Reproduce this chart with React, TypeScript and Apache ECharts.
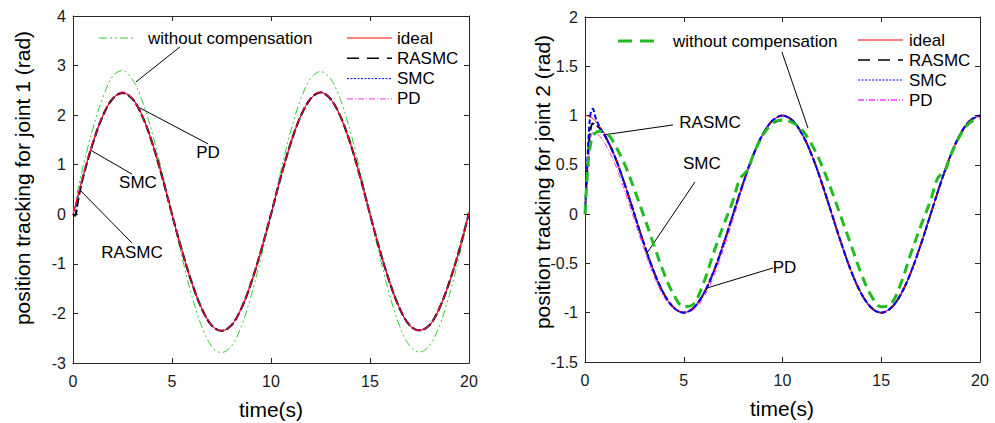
import React, { useEffect, useRef } from "react";
import * as echarts from "echarts";

// ---------- data ----------
const T1 = [0, 0.1, 0.25, 0.5, 1, 1.5, 2, 2.5, 3, 3.5, 4, 4.5, 5, 5.5, 6, 6.5, 7, 7.5, 8, 8.5, 9, 9.5, 10, 10.5, 11, 11.5, 12, 12.5, 13, 13.5, 14, 14.5, 15, 15.5, 16, 16.5, 17, 17.5, 18, 18.5, 19, 19.5, 20];
const ideal1 = [0, 0.15, 0.38, 0.76, 1.44, 1.98, 2.33, 2.45, 2.33, 1.98, 1.44, 0.76, 0, -0.73, -1.38, -1.9, -2.24, -2.35, -2.24, -1.9, -1.38, -0.73, 0, 0.76, 1.44, 1.98, 2.33, 2.46, 2.33, 1.98, 1.44, 0.76, 0, -0.73, -1.38, -1.9, -2.24, -2.34, -2.24, -1.9, -1.38, -0.73, 0.03];
const rasmc1 = [0, -0.03, 0.28, 0.74, 1.43, 1.98, 2.33, 2.45, 2.33, 1.98, 1.44, 0.76, 0, -0.73, -1.38, -1.9, -2.24, -2.35, -2.24, -1.9, -1.38, -0.73, 0, 0.76, 1.44, 1.98, 2.33, 2.46, 2.33, 1.98, 1.44, 0.76, 0, -0.73, -1.38, -1.9, -2.24, -2.34, -2.24, -1.9, -1.38, -0.73, 0.03];
const smc1 = [0, 0.08, 0.34, 0.75, 1.44, 1.98, 2.33, 2.45, 2.33, 1.98, 1.44, 0.76, 0, -0.73, -1.38, -1.9, -2.24, -2.35, -2.24, -1.9, -1.38, -0.73, 0, 0.76, 1.44, 1.98, 2.33, 2.46, 2.33, 1.98, 1.44, 0.76, 0, -0.73, -1.38, -1.9, -2.24, -2.34, -2.24, -1.9, -1.38, -0.73, 0.03];
const pd1 = [0, 0.12, 0.4, 0.78, 1.45, 1.99, 2.34, 2.47, 2.34, 1.99, 1.45, 0.77, 0, -0.73, -1.38, -1.9, -2.24, -2.35, -2.24, -1.9, -1.38, -0.73, 0, 0.76, 1.44, 1.98, 2.33, 2.47, 2.33, 1.98, 1.44, 0.76, 0, -0.73, -1.38, -1.9, -2.24, -2.34, -2.24, -1.9, -1.38, -0.73, 0.03];
const wo1 = [0, 0.2, 0.5, 0.95, 1.72, 2.35, 2.78, 2.9, 2.72, 2.28, 1.64, 0.85, 0, -0.86, -1.64, -2.26, -2.66, -2.79, -2.66, -2.26, -1.64, -0.86, 0, 0.88, 1.68, 2.32, 2.74, 2.88, 2.74, 2.32, 1.68, 0.88, 0, -0.86, -1.64, -2.26, -2.65, -2.78, -2.65, -2.26, -1.64, -0.86, 0.05];

const T2 = [0, 0.1, 0.2, 0.3, 0.4, 0.5, 0.75, 1, 1.5, 2, 2.5, 3, 3.5, 4, 4.5, 5, 5.5, 6, 6.5, 7, 7.5, 8, 8.5, 9, 9.5, 10, 10.5, 11, 11.5, 12, 12.5, 13, 13.5, 14, 14.5, 15, 15.5, 16, 16.5, 17, 17.5, 18, 18.5, 19, 19.5, 20];
const ideal2 = [1, 1.0, 0.99, 0.98, 0.97, 0.95, 0.89, 0.81, 0.59, 0.31, 0, -0.31, -0.59, -0.81, -0.95, -1, -0.95, -0.81, -0.59, -0.31, 0, 0.31, 0.59, 0.81, 0.95, 1, 0.95, 0.81, 0.59, 0.31, 0, -0.31, -0.59, -0.81, -0.95, -1, -0.95, -0.81, -0.59, -0.31, 0, 0.31, 0.59, 0.81, 0.95, 1];
const rasmc2 = [0, 0.4, 0.72, 0.88, 0.92, 0.91, 0.87, 0.8, 0.59, 0.31, 0, -0.31, -0.59, -0.81, -0.95, -1, -0.95, -0.81, -0.59, -0.31, 0, 0.31, 0.59, 0.81, 0.95, 1, 0.95, 0.81, 0.59, 0.31, 0, -0.31, -0.59, -0.81, -0.95, -1, -0.95, -0.81, -0.59, -0.31, 0, 0.31, 0.59, 0.81, 0.95, 1];
const smc2 = [0, 0.45, 0.85, 1.04, 1.07, 1.0, 0.88, 0.8, 0.59, 0.31, 0, -0.31, -0.59, -0.81, -0.95, -1, -0.95, -0.81, -0.59, -0.31, 0, 0.31, 0.59, 0.81, 0.95, 1, 0.95, 0.81, 0.59, 0.31, 0, -0.31, -0.59, -0.81, -0.95, -1, -0.95, -0.81, -0.59, -0.31, 0, 0.31, 0.59, 0.81, 0.95, 1];
const pd2 = [0, 0.35, 0.62, 0.78, 0.83, 0.83, 0.79, 0.72, 0.52, 0.24, -0.06, -0.36, -0.63, -0.84, -0.96, -0.99, -0.97, -0.85, -0.64, -0.36, -0.05, 0.28, 0.57, 0.8, 0.94, 1, 0.95, 0.81, 0.59, 0.31, 0, -0.31, -0.59, -0.81, -0.95, -1, -0.95, -0.81, -0.59, -0.31, 0, 0.31, 0.59, 0.81, 0.95, 1];
const T3 = [0, 0.1, 0.2, 0.35, 0.5, 0.75, 1, 1.25, 1.5, 2, 2.5, 3, 3.5, 4, 4.5, 5, 5.5, 6, 6.5, 7, 7.5, 7.85, 8.25, 8.5, 9, 9.5, 10, 10.5, 11, 11.5, 12, 12.5, 13, 13.5, 14, 14.5, 15, 15.5, 16, 16.5, 17, 17.5, 17.85, 18.25, 18.5, 19, 19.5, 20];
const wo2 = [0, 0.35, 0.6, 0.77, 0.82, 0.84, 0.83, 0.79, 0.71, 0.51, 0.25, -0.03, -0.32, -0.6, -0.82, -0.94, -0.91, -0.7, -0.4, -0.12, 0.14, 0.36, 0.45, 0.59, 0.8, 0.92, 0.955, 0.93, 0.85, 0.7, 0.49, 0.23, -0.05, -0.33, -0.61, -0.83, -0.94, -0.91, -0.7, -0.4, -0.12, 0.14, 0.36, 0.45, 0.59, 0.8, 0.93, 0.97];

const xTicks = { min: 0, max: 20, interval: 5 };
const y1Ticks = { min: -3, max: 4, interval: 1 };
const y2Ticks = { min: -1.5, max: 2, interval: 0.5 };

const legendNames = ["ideal", "RASMC", "SMC", "PD"];
const woName = "without compensation";
const xTitle = "time(s)";
const yTitle1 = "position tracking for joint 1 (rad)";
const yTitle2 = "position tracking for joint 2 (rad)";

// annotation leader lines in data coordinates: [x1, y1, x2, y2]
const notes1 = [
  { text: "PD", line: [3.38, 2.145, 6.82, 1.42], at: [6.82, 1.25] },
  { text: "SMC", line: [0.86, 1.3, 2.98, 0.81], at: [3.28, 0.65] },
  { text: "RASMC", line: [0.35, 0.49, 2.98, -0.58], at: [2.98, -0.78] },
];
const woNote1 = [5.4, 3.375, 3.18, 2.67];
const notes2 = [
  { text: "RASMC", line: [4.46, 0.905, 0.91, 0.803], at: [6.33, 0.93] },
  { text: "SMC", line: [5.57, 0.327, 3.14, -0.394], at: [5.92, 0.51] },
  { text: "PD", line: [9.52, -0.546, 6.18, -0.749], at: [10.1, -0.54] },
];
const woNote2 = [9.97, 1.645, 11.29, 0.874];

// ---------- styles ----------
const FONT = '"Liberation Sans", Arial, sans-serif';
const AX = "#262626";
const RED = "#ff0000";
const BLACK = "#000000";
const BLUE = "#0000ff";
const MAG = "#ff33ff";
const GREEN1 = "#33cc33";
const GREEN2 = "#22bb22";

const zip = (t: number[], v: number[]) => t.map((x, i) => [x, v[i]]);

function axisPair(kind: "x" | "y", grid: number, ticks: any) {
  const common = {
    type: "value",
    gridIndex: grid,
    min: ticks.min,
    max: ticks.max,
    interval: ticks.interval,
    splitLine: { show: false },
    axisLine: { show: true, onZero: false, lineStyle: { color: AX, width: 1 } },
    axisTick: { show: true, inside: true, length: 5, lineStyle: { color: AX } },
  };
  return [
    {
      ...common,
      position: kind === "x" ? "bottom" : "left",
      axisLabel: { show: true, color: "#1a1a1a", fontSize: 16, fontFamily: FONT, margin: kind === "x" ? 10 : 7 },
    },
    {
      ...common,
      position: kind === "x" ? "top" : "right",
      axisLabel: { show: false },
    },
  ];
}

function line(name: string, xi: number, yi: number, data: number[][], color: string, width: number, type: any, z: number, extra: any = {}) {
  return {
    name,
    type: "line",
    xAxisIndex: xi,
    yAxisIndex: yi,
    data,
    smooth: 0.35,
    showSymbol: false,
    symbol: "none",
    z,
    lineStyle: { color, width, type },
    ...extra,
  };
}

function mark(lines: number[][]) {
  return {
    markLine: {
      silent: true,
      symbol: ["none", "none"],
      label: { show: false },
      lineStyle: { color: "#000", width: 1, type: "solid" },
      data: lines.map((l) => [{ coord: [l[0], l[1]] }, { coord: [l[2], l[3]] }]),
    },
  };
}

export default function App() {
  const ref = useRef<HTMLDivElement>(null);
  useEffect(() => {
    if (!ref.current) return;
    const chart = echarts.init(ref.current, undefined, { renderer: "svg" });

    const x0 = axisPair("x", 0, xTicks);
    const x1 = axisPair("x", 1, xTicks);
    const y0 = axisPair("y", 0, y1Ticks);
    const y1 = axisPair("y", 1, y2Ticks);

    const series: any[] = [
      line(woName, 0, 0, zip(T1, wo1), GREEN1, 1, [8, 3, 2, 3, 2, 3], 2),
      line("RASMC", 0, 0, zip(T1, rasmc1), BLACK, 2.2, [9, 3], 3),
      line("SMC", 0, 0, zip(T1, smc1), BLUE, 1, [2, 1.5], 4),
      line("PD", 0, 0, zip(T1, pd1), MAG, 1, [6, 2, 1, 2], 5),
      line("ideal", 0, 0, zip(T1, ideal1), RED, 1, "solid", 6,
        mark([...notes1.map((n) => n.line), woNote1])),
      line("RASMC", 2, 2, zip(T2, rasmc2), BLACK, 2, [9, 3], 2),
      line("PD", 2, 2, zip(T2, pd2), MAG, 1, [6, 2, 1, 2], 3),
      line("ideal", 2, 2, zip(T2, ideal2), RED, 1, "solid", 4,
        mark([...notes2.map((n) => n.line), woNote2])),
      line("SMC", 2, 2, zip(T2, smc2), BLUE, 2, [5, 2.5], 5),
      line(woName, 2, 2, zip(T3, wo2), GREEN2, 3, [10, 6], 6),
    ];

    const txt = (text: string, x: number, y: number, opts: any = {}) => ({
      type: "text",
      x,
      y,
      silent: true,
      style: { text, fill: "#000", fontSize: 17, fontFamily: FONT, align: "left", verticalAlign: "middle", ...opts },
    });
    const seg = (x1: number, y1: number, x2: number, y2: number, stroke: string, lineWidth: number, lineDash: any) => ({
      type: "line",
      silent: true,
      shape: { x1, y1, x2, y2 },
      style: { stroke, lineWidth, lineDash },
    });

    const legendStyles1 = [
      [RED, 1, null],
      [BLACK, 1.5, [12, 8]],
      [BLUE, 1, [2, 1.5]],
      [MAG, 1, [6, 2, 1, 2]],
    ];
    const legendStyles2 = [
      [RED, 1, null],
      [BLACK, 1.5, [12, 8]],
      [BLUE, 1, [2, 1.5]],
      [MAG, 1.5, [6, 2, 1, 2]],
    ];
    const graphic: any[] = [];
    legendNames.forEach((n, i) => {
      const s1 = legendStyles1[i] as any;
      const s2 = legendStyles2[i] as any;
      const ya = 38 + i * 20.3;
      graphic.push(seg(347, ya, 392, ya, s1[0], s1[1], s1[2]));
      graphic.push(txt(n, 397, ya));
      const yb = 40 + i * 20;
      graphic.push(seg(858, yb, 903, yb, s2[0], s2[1], s2[2]));
      graphic.push(txt(n, 909, yb));
    });
    graphic.push(seg(99, 38, 136, 38, GREEN1, 1, [8, 3, 2, 3, 2, 3]));
    graphic.push(txt(woName, 148, 38));
    graphic.push(seg(618, 41, 662, 41, GREEN2, 3, [14, 8]));
    graphic.push(txt(woName, 673, 41));

    graphic.push(txt(xTitle, 271, 409, { align: "center", fontSize: 21 }));
    graphic.push(txt(xTitle, 782, 408, { align: "center", fontSize: 21 }));
    graphic.push({ ...txt(yTitle1, 0, 0, { align: "center", fontSize: 21 }), x: 22, y: 178, rotation: Math.PI / 2 });
    graphic.push({ ...txt(yTitle2, 0, 0, { align: "center", fontSize: 21 }), x: 542, y: 182, rotation: Math.PI / 2 });

    chart.setOption({
      animation: false,
      backgroundColor: "#ffffff",
      textStyle: { fontFamily: FONT },
      grid: [
        { left: 73, top: 16, width: 396, height: 347, show: false },
        { left: 585, top: 17, width: 395, height: 345, show: false },
      ],
      xAxis: [...x0, ...x1],
      yAxis: [...y0, ...y1],
      series,
      graphic,
    });

    // annotation texts placed via the axes' scales
    const extra: any[] = [];
    notes1.forEach((n) => {
      const p = chart.convertToPixel({ xAxisIndex: 0, yAxisIndex: 0 }, n.at) as number[];
      extra.push(txt(n.text, p[0], p[1], { align: "center" }));
    });
    notes2.forEach((n) => {
      const p = chart.convertToPixel({ xAxisIndex: 2, yAxisIndex: 2 }, n.at) as number[];
      extra.push(txt(n.text, p[0], p[1], { align: "center" }));
    });
    chart.setOption({ graphic: [...graphic, ...extra] });

    return () => chart.dispose();
  }, []);
  return <div ref={ref} style={{ position: "fixed", left: 0, top: 0, width: 995, height: 423, background: "#fff" }} />;
}
